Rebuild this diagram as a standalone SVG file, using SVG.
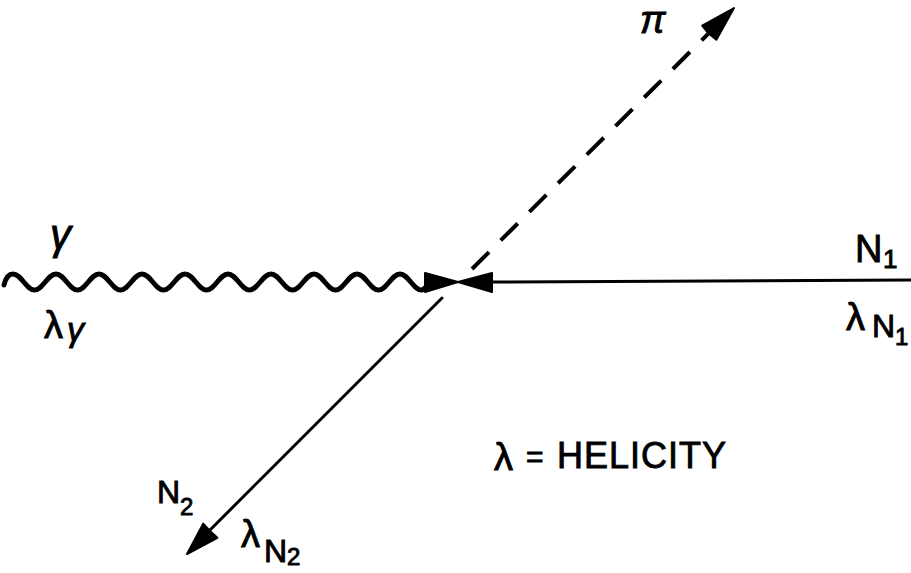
<svg xmlns="http://www.w3.org/2000/svg" width="911" height="573" viewBox="0 0 911 573">
<style>
text{font-family:"Liberation Sans",Arial,sans-serif;fill:#000;stroke:#000;stroke-width:0.9}
.it{font-style:italic}
.ln{stroke:#000;stroke-width:3;fill:none;stroke-linecap:round}
.ah{fill:#000;stroke:#000;stroke-width:2;stroke-linejoin:round}
</style>
<rect width="911" height="573" fill="#fff"/>
<g id="connectors">
<path id="photon" class="ln" style="stroke-width:5" d="M4 285 C6 277 9 274 13 274 C21 274 26.5 290 34.5 290 S48 274 56 274 S69.5 290 77.5 290 S91 274 99 274 S112.5 290 120.5 290 S134 274 142 274 S155.5 290 163.5 290 S177 274 185 274 S198.5 290 206.5 290 S220 274 228 274 S241.5 290 249.5 290 S263 274 271 274 S284.5 290 292.5 290 S306 274 314 274 S327.5 290 335.5 290 S349 274 357 274 S370.5 290 378.5 290 S392 274 400 274 S413.5 290 421.5 290 C424 290 426 287 428 284"/>
<polygon class="ah" points="425,273 458,282 425,292"/>
<line id="n1" class="ln" x1="492" y1="282" x2="911" y2="280"/>
<polygon class="ah" points="492,273 458,282 492,292"/>
<line id="pion" class="ln" style="stroke-width:4;stroke-dasharray:24 16.5;stroke-linecap:butt" x1="472" y1="269" x2="708" y2="34"/>
<polygon class="ah" points="734,8 716.4,39.8 708,33 702.2,25.6"/>
<line id="n2" class="ln" x1="442" y1="298" x2="208" y2="532"/>
<polygon class="ah" points="187,554 203.2,523.6 210,531 217.4,537.8"/>
</g>
<g id="label-gamma"><text class="it" x="50" y="249" font-size="42">γ</text></g>
<g id="label-lambda-gamma"><text x="44" y="338" font-size="38">λ</text><text class="it" x="67" y="341" font-size="34">γ</text></g>
<g id="label-pi"><text class="it" x="640" y="33" font-size="38">π</text></g>
<g id="label-N1"><text x="855" y="262" font-size="38">N</text><text x="883" y="268" font-size="26">1</text></g>
<g id="label-lambda-N1"><text x="846" y="330" font-size="38">λ</text><text x="872" y="337" font-size="32">N</text><text x="895" y="345" font-size="24">1</text></g>
<g id="label-N2"><text x="157" y="503" font-size="32">N</text><text x="180" y="515" font-size="24">2</text></g>
<g id="label-lambda-N2"><text x="241" y="547" font-size="38">λ</text><text x="264" y="562" font-size="32">N</text><text x="287" y="565" font-size="24">2</text></g>
<g id="legend"><text x="494" y="470" font-size="38">λ</text><text x="526" y="467" font-size="30">=</text><text x="557" y="468" font-size="36" letter-spacing="1">HELICITY</text></g>
</svg>
